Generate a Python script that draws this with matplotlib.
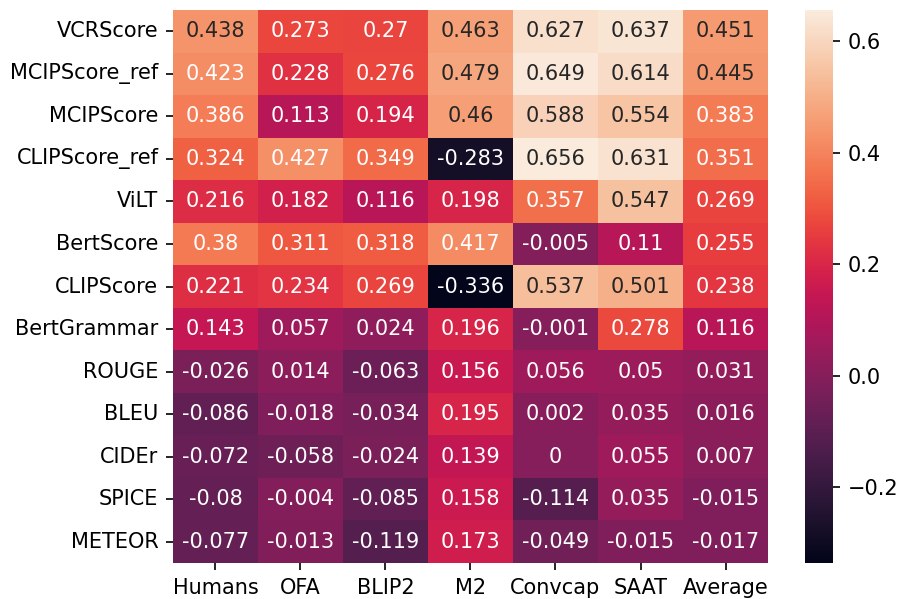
import numpy as np
import pandas as pd
import matplotlib
matplotlib.use("Agg")
import matplotlib.pyplot as plt
import seaborn as sns

metrics = ["VCRScore", "MCIPScore_ref", "MCIPScore", "CLIPScore_ref", "ViLT", "BertScore",
           "CLIPScore", "BertGrammar", "ROUGE", "BLEU", "CIDEr", "SPICE", "METEOR"]
models = ["Humans", "OFA", "BLIP2", "M2", "Convcap", "SAAT", "Average"]

humans = [0.438, 0.423, 0.386, 0.324, 0.216, 0.38, 0.221, 0.143, -0.026, -0.086, -0.072, -0.08, -0.077]
ofa = [0.273, 0.228, 0.113, 0.427, 0.182, 0.311, 0.234, 0.057, 0.014, -0.018, -0.058, -0.004, -0.013]
blip2 = [0.27, 0.276, 0.194, 0.349, 0.116, 0.318, 0.269, 0.024, -0.063, -0.034, -0.024, -0.085, -0.119]
m2 = [0.463, 0.479, 0.46, -0.283, 0.198, 0.417, -0.336, 0.196, 0.156, 0.195, 0.139, 0.158, 0.173]
convcap = [0.627, 0.649, 0.588, 0.656, 0.357, -0.005, 0.537, -0.001, 0.056, 0.002, 0.0, -0.114, -0.049]
saat = [0.637, 0.614, 0.554, 0.631, 0.547, 0.11, 0.501, 0.278, 0.05, 0.035, 0.055, 0.035, -0.015]
average = [0.451, 0.445, 0.383, 0.351, 0.269, 0.255, 0.238, 0.116, 0.031, 0.016, 0.007, -0.015, -0.017]

df = pd.DataFrame({"Humans": humans, "OFA": ofa, "BLIP2": blip2, "M2": m2,
                   "Convcap": convcap, "SAAT": saat, "Average": average}, index=metrics)
df = df[models]

fig = plt.figure(figsize=(899 / 150, 599 / 150), dpi=150)
ax = fig.add_axes([0.1924, 0.0601, 0.6619, 0.9232])
cax = fig.add_axes([0.8954, 0.0601, 0.0311, 0.9232])
sns.heatmap(df, annot=True, fmt="g", ax=ax, cbar_ax=cax)
ax.set_yticklabels(ax.get_yticklabels(), rotation=0)
ax.set_xticklabels(ax.get_xticklabels(), rotation=0)
fig.savefig("out.png", dpi=150)
